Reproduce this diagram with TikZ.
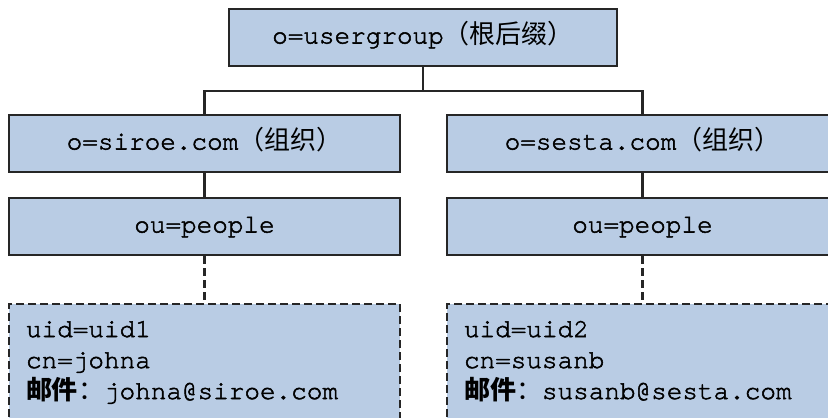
\documentclass[tikz,border=0pt]{standalone}
\usepackage{fontspec}
\setmonofont{TeX Gyre Cursor}[FakeBold=2]
\newfontfamily\cjk{Noto Sans CJK SC}
\usetikzlibrary{positioning}
\definecolor{boxBlue}{RGB}{185,204,228}
\definecolor{edgeGray}{RGB}{38,38,38}

\begin{document}
\begin{tikzpicture}[x=1pt, y=1pt,
    entryNode/.style={rectangle, draw=edgeGray, fill=boxBlue, line width=2pt, minimum width=391pt, minimum height=57pt, inner sep=0pt, text height=18pt, text depth=6pt, font=\fontsize{26}{31}\selectfont\ttfamily},
    leafNode/.style={entryNode, dash pattern=on 8pt off 4pt, align=left, inner xsep=17pt, text width=357pt, text height=33pt, text depth=100pt},
    link/.style={draw=edgeGray, line width=2.2pt},
    dashLink/.style={link, dash pattern=on 8pt off 4pt}
  ]
  \useasboundingbox (0,0) rectangle (828,-418);
  \clip (0,0) rectangle (828,-418);

  % Root
  \node[entryNode, minimum width=388pt] (root) at (423,-37.5) {o=usergroup{\cjk（根后缀）}};

  % Organisations
  \node[entryNode] (siroe) at (204.5,-143.5) {o=siroe.com{\cjk（组织）}};
  \node[entryNode, right=45pt of siroe] (sesta) {o=sesta.com{\cjk（组织）}};

  % People
  \node[entryNode, below=24pt of siroe] (peopleL) {ou=people};
  \node[entryNode, below=24pt of sesta] (peopleR) {ou=people};

  % Users
  \node[leafNode, below=47pt of peopleL] (userL) {uid=uid1\\cn=johna\\{\cjk\bfseries 邮件}{\cjk ：}johna@siroe.com};
  \node[leafNode, below=47pt of peopleR] (userR) {uid=uid2\\cn=susanb\\{\cjk\bfseries 邮件}{\cjk ：}susanb@sesta.com};

  % Links
  \draw[link] (root.south) -- ++(0,-24) coordinate (fork);
  \draw[link] (fork) -| (siroe.north);
  \draw[link] (fork) -| (sesta.north);
  \draw[link] (siroe) -- (peopleL);
  \draw[link] (sesta) -- (peopleR);
  \draw[dashLink] (peopleL) -- (userL);
  \draw[dashLink] (peopleR) -- (userR);
\end{tikzpicture}
\end{document}
